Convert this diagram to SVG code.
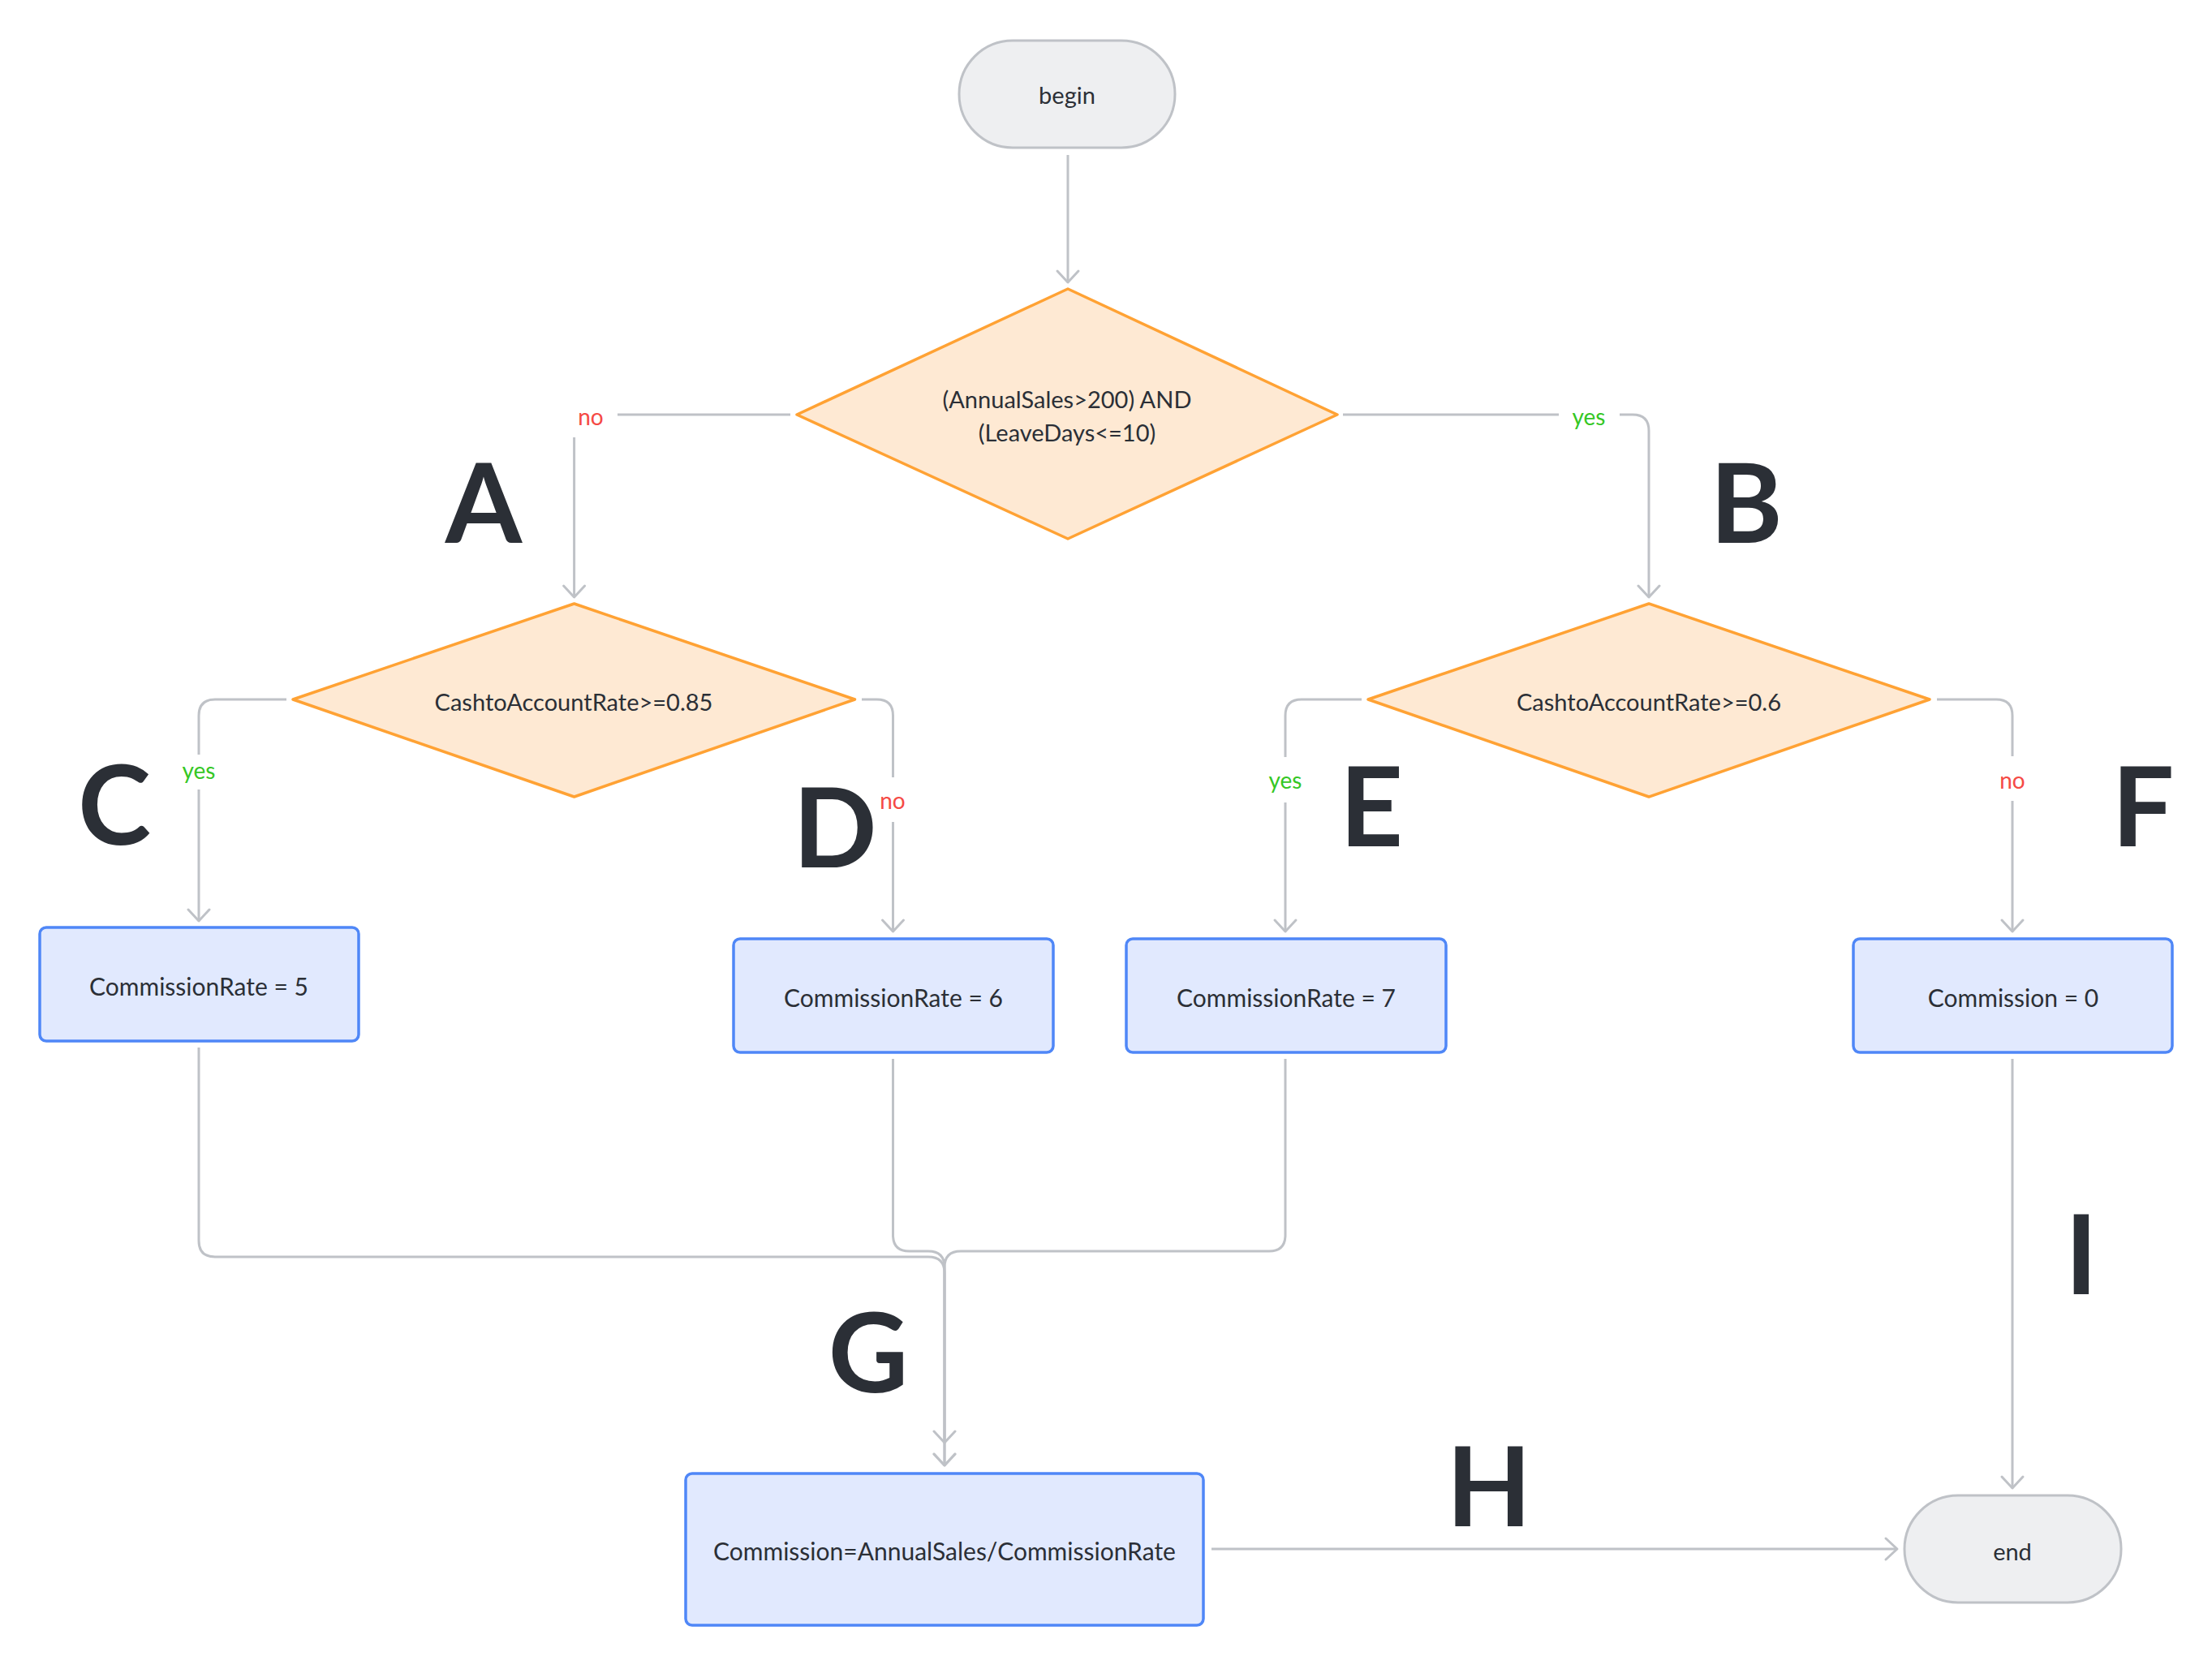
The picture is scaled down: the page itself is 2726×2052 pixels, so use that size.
<svg xmlns="http://www.w3.org/2000/svg" width="2726" height="2052" viewBox="0 0 2726 2052">
<style>
.term{fill:#eeeff1;stroke:#bfc2c7;stroke-width:3}
.dec{fill:#fee9d3;stroke:#ffa234;stroke-width:3.5;stroke-linejoin:round}
.proc{fill:#e1e9fe;stroke:#4f87f7;stroke-width:3.5}
.t{font-family:Lato,"Liberation Sans",sans-serif;font-size:29px;fill:#2b2f36;text-anchor:middle;dominant-baseline:central}
.tb{font-size:30px}
.edge{fill:none;stroke:#bfc2c7;stroke-width:3;marker-end:url(#arr)}
.lblbg{fill:#ffffff}
.no{font-family:Lato,"Liberation Sans",sans-serif;font-size:28px;fill:#f54a45;text-anchor:middle;dominant-baseline:central}
.yes{font-family:Lato,"Liberation Sans",sans-serif;font-size:28px;fill:#34c724;text-anchor:middle;dominant-baseline:central}
.big{font-family:Lato,"Liberation Sans",sans-serif;font-size:136px;font-weight:700;fill:#2b2f36;text-anchor:middle}
</style>
<defs>
<marker id="arr" markerUnits="userSpaceOnUse" markerWidth="40" markerHeight="40" viewBox="-20 -20 40 40" refX="0" refY="0" orient="auto">
<path d="M-14,-13 L0,0 L-14,13" fill="none" stroke="#bfc2c7" stroke-width="3" stroke-linecap="round" stroke-linejoin="round"/>
</marker>
</defs>
<rect width="2726" height="2052" fill="#ffffff"/>
<g id="connectors">
<path class="edge" d="M1316 191 V348"/>
<path class="edge" d="M974 511 H727.6 Q707.6 511 707.6 531 V736"/>
<path class="edge" d="M1655 511 H2012 Q2032 511 2032 531 V736"/>
<path class="edge" d="M353 862 H265 Q245 862 245 882 V1135"/>
<path class="edge" d="M1062 862 H1080.5 Q1100.5 862 1100.5 882 V1148"/>
<path class="edge" d="M1678 862 H1604 Q1584 862 1584 882 V1148"/>
<path class="edge" d="M2387 862 H2460 Q2480 862 2480 882 V1148"/>
<path class="edge" d="M245 1291 V1529 Q245 1549 265 1549 H1144 Q1164 1549 1164 1569 V1778"/>
<path class="edge" d="M1100.5 1305 V1522 Q1100.5 1542 1120.5 1542 H1144 Q1164 1542 1164 1562 V1806"/>
<path class="edge" d="M1584 1305 V1522 Q1584 1542 1564 1542 H1184 Q1164 1542 1164 1562 V1806"/>
<path class="edge" d="M1493 1909 H2338"/>
<path class="edge" d="M2480 1305 V1834"/>
<g id="edge-labels">
<rect class="lblbg" x="695" y="487" width="66" height="52"/><text class="no" x="728" y="513">no</text>
<rect class="lblbg" x="1921" y="487" width="75" height="52"/><text class="yes" x="1958" y="513">yes</text>
<rect class="lblbg" x="210" y="930" width="70" height="43"/><text class="yes" x="245" y="949">yes</text>
<rect class="lblbg" x="1075" y="958" width="51" height="55"/><text class="no" x="1100" y="986">no</text>
<rect class="lblbg" x="1549" y="933" width="70" height="56"/><text class="yes" x="1584" y="961">yes</text>
<rect class="lblbg" x="2454" y="932" width="51" height="55"/><text class="no" x="2480" y="961">no</text>
</g>
</g>
<g id="begin"><rect class="term" x="1182" y="50" width="266" height="132" rx="66"/><text class="t" x="1315" y="116">begin</text></g>
<g id="cond1"><polygon class="dec" points="1316,356 1648,511 1316,664 982,511"/><text class="t" x="1315" y="491">(AnnualSales&gt;200) AND</text><text class="t" x="1315" y="532">(LeaveDays&lt;=10)</text></g>
<g id="cond2"><polygon class="dec" points="707.6,744 1053.5,862 707.6,982 361,862"/><text class="t" x="707" y="864">CashtoAccountRate&gt;=0.85</text></g>
<g id="cond3"><polygon class="dec" points="2032,744 2378,862 2032,982 1686,862"/><text class="t" x="2032" y="864">CashtoAccountRate&gt;=0.6</text></g>
<g id="rate5"><rect class="proc" x="49" y="1143" width="393" height="140" rx="8"/><text class="t tb" x="245" y="1215">CommissionRate = 5</text></g>
<g id="rate6"><rect class="proc" x="904" y="1157" width="394" height="140" rx="8"/><text class="t tb" x="1101" y="1229">CommissionRate = 6</text></g>
<g id="rate7"><rect class="proc" x="1388" y="1157" width="394" height="140" rx="8"/><text class="t tb" x="1585" y="1229">CommissionRate = 7</text></g>
<g id="comm0"><rect class="proc" x="2284" y="1157" width="393" height="140" rx="8"/><text class="t tb" x="2481" y="1229">Commission = 0</text></g>
<g id="calc"><rect class="proc" x="845" y="1816" width="638" height="187" rx="8"/><text class="t tb" x="1164" y="1911">Commission=AnnualSales/CommissionRate</text></g>
<g id="end"><rect class="term" x="2347" y="1843" width="267" height="132" rx="66"/><text class="t" x="2480" y="1911">end</text></g>
<g id="letters">
<text class="big" x="596" y="669">A</text>
<text class="big" x="2152" y="669">B</text>
<text class="big" x="141" y="1041">C</text>
<text class="big" x="1029" y="1069">D</text>
<text class="big" x="1690" y="1043">E</text>
<text class="big" x="2641" y="1043">F</text>
<text class="big" x="1070" y="1716">G</text>
<text class="big" x="1835" y="1881">H</text>
<text class="big" x="2565" y="1595">I</text>
</g>
</svg>
